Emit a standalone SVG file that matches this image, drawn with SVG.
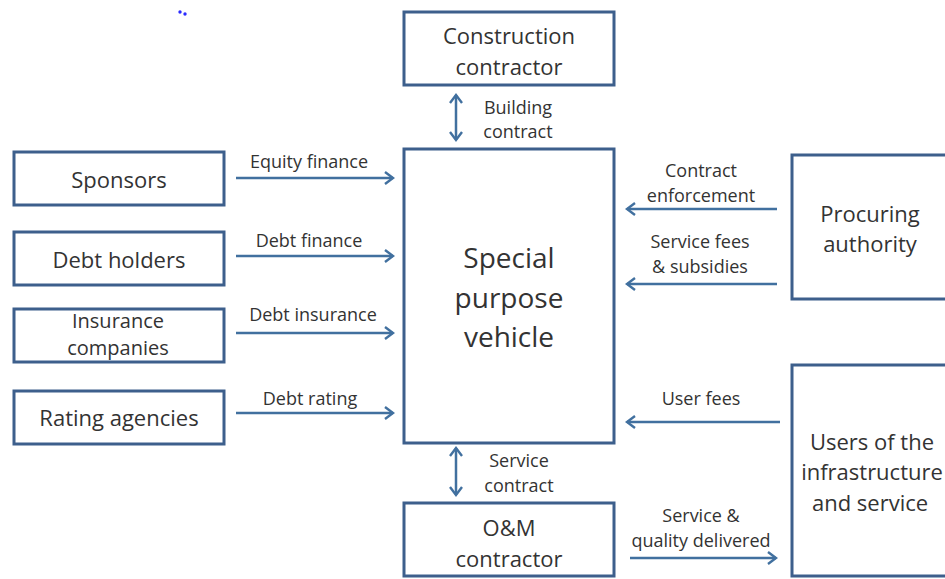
<svg xmlns="http://www.w3.org/2000/svg" width="945" height="579" viewBox="0 0 945 579">
<defs>
<marker id="ah" markerWidth="12" markerHeight="14" refX="10" refY="7" orient="auto-start-reverse" markerUnits="userSpaceOnUse">
<path d="M2,1 L10,7 L2,13" fill="none" stroke="#41709f" stroke-width="2.4"/>
</marker>
<style>
.box{fill:#fff;stroke:#3d5f8c;stroke-width:3}
.t{font-family:"Open Sans","Noto Sans",sans-serif;fill:#333;text-anchor:middle;dominant-baseline:central}
.b{font-size:22px}
.m{font-size:20px}
.s{font-size:18px}
.big{font-size:28px}
.ar{stroke:#41709f;stroke-width:2.5;fill:none;marker-end:url(#ah)}
.dbl{stroke:#41709f;stroke-width:2.5;fill:none;marker-end:url(#ah);marker-start:url(#ah)}
</style>
</defs>
<rect width="945" height="579" fill="#fff"/>
<circle cx="180" cy="12" r="1.7" fill="#2b2bff"/>
<circle cx="185" cy="14" r="1.7" fill="#2b2bff"/>

<g id="construction-contractor">
<rect class="box" x="404" y="12" width="210" height="73"/>
<text class="t b" x="509" y="35">Construction</text>
<text class="t b" x="509" y="66">contractor</text>
</g>
<g id="spv">
<rect class="box" x="404" y="149" width="210" height="294"/>
<text class="t big" x="509" y="257">Special</text>
<text class="t big" x="509" y="297">purpose</text>
<text class="t big" x="509" y="336">vehicle</text>
</g>
<g id="sponsors">
<rect class="box" x="14" y="152" width="210" height="53"/>
<text class="t b" x="119" y="179">Sponsors</text>
</g>
<g id="debt-holders">
<rect class="box" x="14" y="232" width="210" height="53"/>
<text class="t b" x="119" y="259">Debt holders</text>
</g>
<g id="insurance-companies">
<rect class="box" x="14" y="309" width="210" height="53"/>
<text class="t m" x="118" y="320">Insurance</text>
<text class="t m" x="118" y="347">companies</text>
</g>
<g id="rating-agencies">
<rect class="box" x="14" y="391" width="210" height="53"/>
<text class="t b" x="119" y="417">Rating agencies</text>
</g>
<g id="procuring-authority">
<rect class="box" x="792" y="155" width="160" height="144"/>
<text class="t b" x="870" y="213">Procuring</text>
<text class="t b" x="870" y="243">authority</text>
</g>
<g id="users">
<rect class="box" x="792" y="365" width="160" height="211"/>
<text class="t b" x="872" y="441">Users  of the</text>
<text class="t b" x="872" y="471">infrastructure</text>
<text class="t b" x="870" y="502">and service</text>
</g>
<g id="om-contractor">
<rect class="box" x="404" y="503" width="210" height="73"/>
<text class="t b" x="509" y="527">O&amp;M</text>
<text class="t b" x="509" y="558">contractor</text>
</g>

<g id="connectors">
<line class="dbl" x1="456" y1="95" x2="456" y2="140"/>
<text class="t s" x="518" y="107">Building</text>
<text class="t s" x="518" y="131">contract</text>

<line class="ar" x1="236" y1="178" x2="393" y2="178"/>
<text class="t s" x="309" y="161">Equity finance</text>
<line class="ar" x1="236" y1="256" x2="393" y2="256"/>
<text class="t s" x="309" y="240">Debt finance</text>
<line class="ar" x1="236" y1="333" x2="393" y2="333"/>
<text class="t s" x="313" y="314">Debt insurance</text>
<line class="ar" x1="236" y1="413" x2="393" y2="413"/>
<text class="t s" x="310" y="398">Debt rating</text>

<line class="ar" x1="777" y1="209" x2="627" y2="209"/>
<text class="t s" x="701" y="170">Contract</text>
<text class="t s" x="701" y="195">enforcement</text>
<line class="ar" x1="777" y1="284" x2="627" y2="284"/>
<text class="t s" x="700" y="241">Service fees</text>
<text class="t s" x="700" y="266">&amp; subsidies</text>

<line class="ar" x1="780" y1="422" x2="627" y2="422"/>
<text class="t s" x="701" y="398">User fees</text>

<line class="dbl" x1="456" y1="448" x2="456" y2="495"/>
<text class="t s" x="519" y="460">Service</text>
<text class="t s" x="519" y="485">contract</text>

<line class="ar" x1="630" y1="558" x2="776" y2="558"/>
<text class="t s" x="701" y="515">Service &amp;</text>
<text class="t s" x="701" y="540">quality delivered</text>
</g>
</svg>
